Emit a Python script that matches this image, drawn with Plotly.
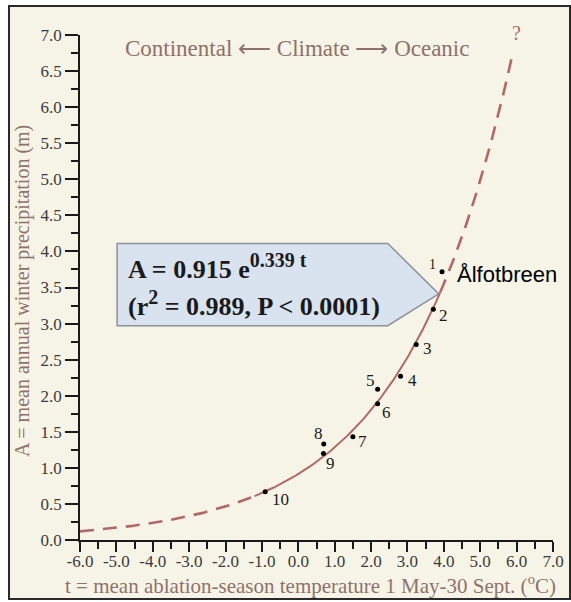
import numpy as np
import plotly.graph_objects as go

# ---- data -------------------------------------------------------------
glacier_ids = ["1", "2", "3", "4", "5", "6", "7", "8", "9", "10"]
temp_t = [3.95, 3.71, 3.24, 2.81, 2.18, 2.18, 1.50, 0.70, 0.69, -0.91]
precip_A = [3.72, 3.20, 2.71, 2.27, 2.09, 1.89, 1.43, 1.33, 1.20, 0.67]

# fitted model A = a * exp(b t)
fit_a = 0.915
fit_b = 0.339
fit_solid_range = (-1.2, 3.9)
fit_dash_low = (-6.0, -1.2)
fit_dash_high = (3.9, 5.88)

x_tick_vals = [-6, -5, -4, -3, -2, -1, 0, 1, 2, 3, 4, 5, 6, 7]
x_tick_text = ["-6.0", "-5.0", "-4.0", "-3.0", "-2.0", "-1.0", "0.0",
               "1.0", "2.0", "3.0", "4.0", "5.0", "6.0", "7.0"]
y_tick_vals = [0.0, 0.5, 1.0, 1.5, 2.0, 2.5, 3.0, 3.5, 4.0, 4.5, 5.0, 5.5, 6.0, 6.5, 7.0]
y_tick_text = ["0.0", "0.5", "1.0", "1.5", "2.0", "2.5", "3.0", "3.5",
               "4.0", "4.5", "5.0", "5.5", "6.0", "6.5", "7.0"]

# ---- styling ----------------------------------------------------------
W, H = 571, 602
ML, MR, MT, MB = 80, 18, 35, 62
PW, PH = W - ML - MR, H - MT - MB

SERIF = "Liberation Serif, Times New Roman, serif"
SANS = "Liberation Sans, Arial, sans-serif"
CURVE = "#b36868"
BROWN = "#8f716b"
TICK = "#3a3a3a"
CREAM = "#f6f4e6"

# label offsets (px) for the numbered points
label_dx = [-10, 10, 11, 12, -7, 9, 10, -5, 7, 15]
label_dy = [7, -6, -4, -4, 9, -9, -5, 11, -10, -8]


def px(xp, yp):
    """Pixel position on the page -> paper coordinates."""
    return (xp - ML) / PW, (H - MB - yp) / PH


def fit_curve(lo, hi, n=200):
    t = np.linspace(lo, hi, n)
    return t, fit_a * np.exp(fit_b * t)


fig = go.Figure()

for rng, dash, width in [(fit_dash_low, "14px,9px", 2.6),
                         (fit_dash_high, "14px,9px", 2.6),
                         (fit_solid_range, "solid", 2.0)]:
    t, a = fit_curve(*rng)
    fig.add_trace(go.Scatter(x=t, y=a, mode="lines",
                             line=dict(color=CURVE, width=width, dash=dash),
                             hoverinfo="skip", showlegend=False))

fig.add_trace(go.Scatter(x=temp_t, y=precip_A, mode="markers",
                         marker=dict(color="black", size=5),
                         showlegend=False))

annotations = []
for gid, t, a, dx, dy in zip(glacier_ids, temp_t, precip_A, label_dx, label_dy):
    annotations.append(dict(x=t, y=a, xref="x", yref="y", text=gid,
                            showarrow=False, xshift=dx, yshift=dy,
                            xanchor="center", yanchor="middle",
                            font=dict(family=SERIF, size=17 if gid != "1" else 14,
                                      color="#1a1a1a")))

# station name beside point 1
annotations.append(dict(x=temp_t[0], y=precip_A[0], xref="x", yref="y",
                        text="Ålfotbreen", showarrow=False, xanchor="left",
                        yanchor="middle", xshift=13, yshift=-3,
                        font=dict(family=SANS, size=22, color="black")))


def paper_text(xp, yp, text, size, color, family=SERIF, xanchor="center", angle=0):
    x, y = px(xp, yp)
    return dict(x=x, y=y, xref="paper", yref="paper", text=text,
                showarrow=False, xanchor=xanchor, yanchor="middle",
                textangle=angle, font=dict(family=family, size=size, color=color))


# regression equation in the callout
annotations.append(paper_text(
    126, 266, "<b>A = 0.915 e<sup><span style='font-size:20px'>0.339 t</span></sup></b>",
    26, "#1a1a1a", xanchor="left"))
annotations.append(paper_text(
    126, 303, "<b>(r<sup><span style='font-size:20px'>2</span></sup> = 0.989, P &lt; 0.0001)</b>",
    26, "#1a1a1a", xanchor="left"))

# climate gradient header
annotations.append(paper_text(297, 48, "Continental ⟵ Climate ⟶ Oceanic", 23, BROWN))

# question mark at the top of the extrapolation
annotations.append(paper_text(516, 33, "?", 20, CURVE))

# axis titles
annotations.append(paper_text(22, 291, "A = mean annual winter precipitation (m)",
                              20, BROWN, angle=-90))
annotations.append(paper_text(310, 584,
                              "t = mean ablation-season temperature 1 May-30 Sept. (<sup>o</sup>C)",
                              21, BROWN))

# outer frame and callout
fx0, fy0 = px(9, 6)
fx1, fy1 = px(570, 599)
shapes = [
    dict(type="rect", xref="paper", yref="paper", x0=fx0, x1=fx1, y0=fy1, y1=fy0,
         fillcolor=CREAM, line=dict(color="#2a2a2a", width=2), layer="below"),
    dict(type="path", xref="x", yref="y", layer="below",
         path="M -4.98,4.11 L 2.46,4.11 L 3.86,3.41 L 2.46,2.97 L -4.98,2.97 Z",
         fillcolor="#d8e3ef", line=dict(color="#8e909c", width=1.5)),
]

fig.update_layout(
    width=W, height=H,
    margin=dict(l=ML, r=MR, t=MT, b=MB, autoexpand=False),
    paper_bgcolor="white", plot_bgcolor="rgba(0,0,0,0)",
    showlegend=False,
    annotations=annotations, shapes=shapes,
    xaxis=dict(range=[-6, 7], showgrid=False, zeroline=False,
               showline=True, linecolor="#1a1a1a", linewidth=1.5,
               tickmode="array", tickvals=x_tick_vals, ticktext=x_tick_text,
               ticks="outside", ticklen=10, tickwidth=1.5, tickcolor="#1a1a1a",
               ticklabelstandoff=-5,
               tickfont=dict(family=SERIF, size=17, color=TICK),
               minor=dict(dtick=0.5, tick0=-6, ticks="outside", ticklen=7,
                          tickwidth=1.5, tickcolor="#1a1a1a", showgrid=False)),
    yaxis=dict(range=[0, 7], showgrid=False, zeroline=False,
               showline=True, linecolor="#1a1a1a", linewidth=1.5,
               tickmode="array", tickvals=y_tick_vals, ticktext=y_tick_text,
               ticks="outside", ticklen=13, tickwidth=1.5, tickcolor="#1a1a1a",
               tickfont=dict(family=SERIF, size=17, color=TICK),
               minor=dict(dtick=0.25, tick0=0, ticks="outside", ticklen=7,
                          tickwidth=1.5, tickcolor="#1a1a1a", showgrid=False)),
)

fig.write_html("out.html")
